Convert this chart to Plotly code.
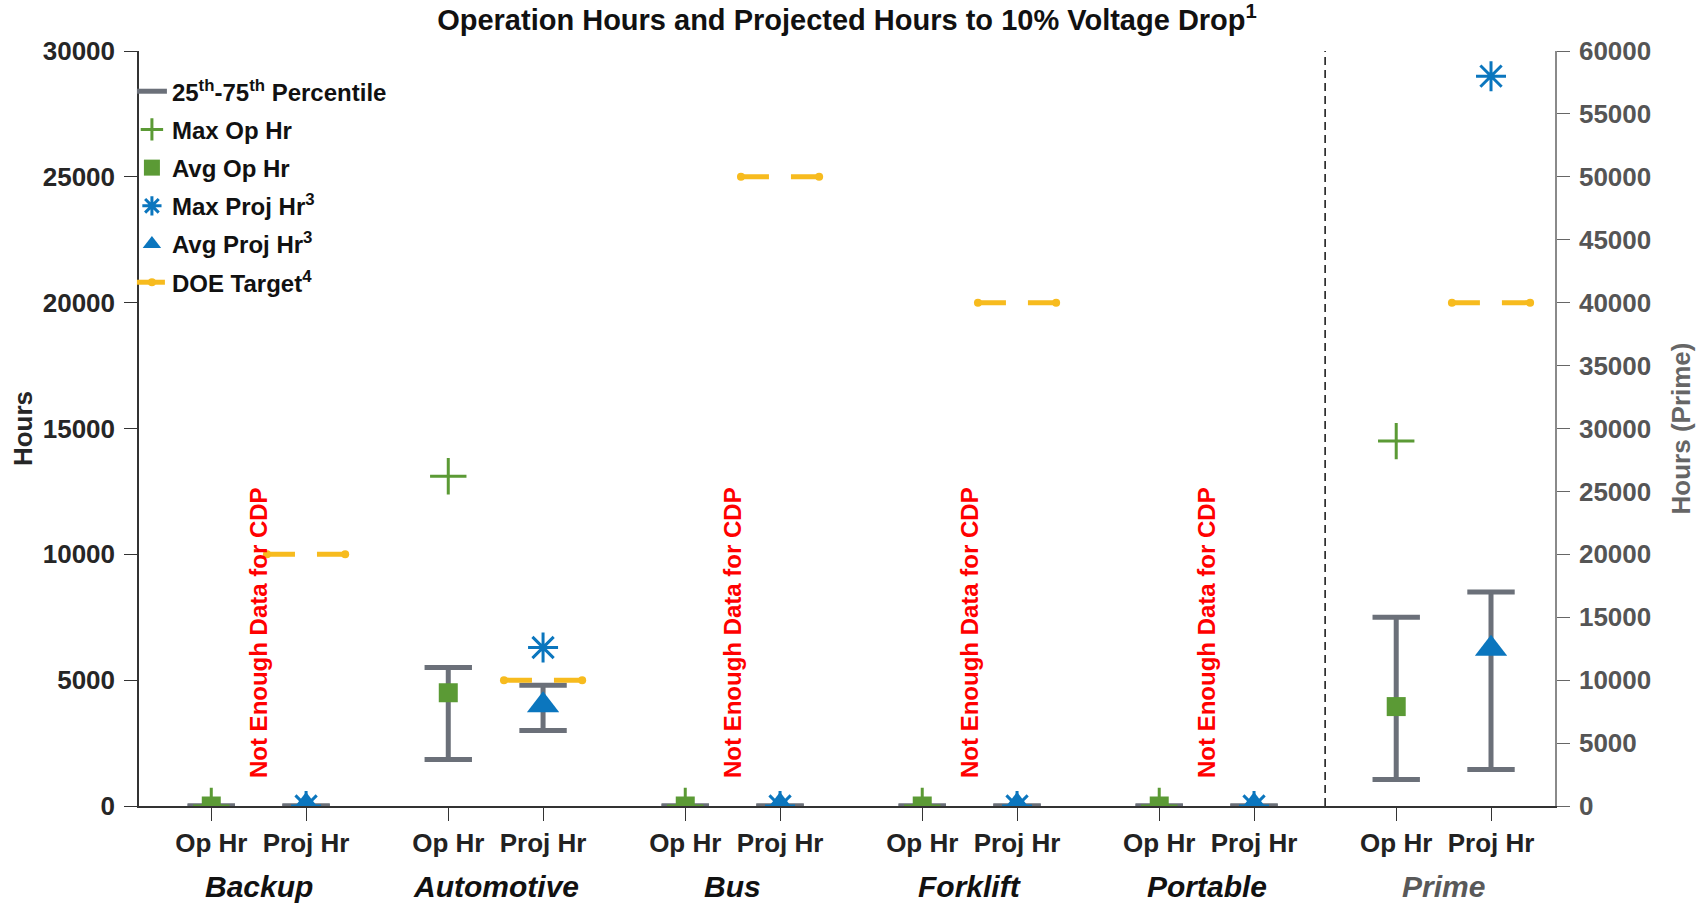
import plotly.graph_objects as go

# ---------------- data ----------------
categories = ["Backup", "Automotive", "Bus", "Forklift", "Portable", "Prime"]
sub_labels = ["Op Hr", "Proj Hr"]

op_q25 = [0, 1850, 0, 0, 0, 2100]
op_q75 = [0, 5500, 0, 0, 0, 15000]
op_avg = [0, 4500, 0, 0, 0, 7900]
op_max = [0, 13100, 0, 0, 0, 29000]

proj_q25 = [0, 3000, 0, 0, 0, 2900]
proj_q75 = [0, 4800, 0, 0, 0, 17000]
proj_avg = [0, 4000, 0, 0, 0, 12500]
proj_max = [0, 6300, 0, 0, 0, 58000]

doe_target = [10000, 5000, 25000, 20000, None, 40000]
not_enough_data = [True, False, True, True, True, False]
note_text = "Not Enough Data for CDP"
note_y = 6900
prime_index = 5  # plotted against the right-hand axis

# ---------------- style ----------------
FONT = "Arial, Liberation Sans, sans-serif"
GREEN = "#5b9a35"
BLUE = "#0b76be"
GRAY = "#6b7079"
YELLOW = "#f7bb1e"
OFFSET = 0.2
CAP = 0.1
DOE_HALF = 0.165

group_x = [i + 1 for i in range(len(categories))]
op_x = [g - OFFSET for g in group_x]
proj_x = [g + OFFSET for g in group_x]


def whisker_path(xs, lo, hi, idx):
    px, py = [], []
    for i in idx:
        x, a, b = xs[i], lo[i], hi[i]
        px += [x, x, None, x - CAP, x + CAP, None, x - CAP, x + CAP, None]
        py += [a, b, None, a, a, None, b, b, None]
    return px, py


left_idx = [i for i in range(len(categories)) if i != prime_index]
right_idx = [prime_index]

fig = go.Figure()


def add_group(idx, yaxis, show):
    wx1, wy1 = whisker_path(op_x, op_q25, op_q75, idx)
    wx2, wy2 = whisker_path(proj_x, proj_q25, proj_q75, idx)
    fig.add_trace(go.Scatter(x=wx1 + wx2, y=wy1 + wy2, mode="lines", yaxis=yaxis,
                             line=dict(color=GRAY, width=5),
                             name="25<sup>th</sup>-75<sup>th</sup> Percentile",
                             legendgroup="pct", showlegend=show, hoverinfo="skip"))
    fig.add_trace(go.Scatter(x=[op_x[i] for i in idx], y=[op_max[i] for i in idx],
                             mode="markers", yaxis=yaxis, name="Max Op Hr",
                             legendgroup="maxop", showlegend=show,
                             marker=dict(symbol="cross-thin-open", size=26,
                                         line=dict(color=GREEN, width=3), color=GREEN)))
    fig.add_trace(go.Scatter(x=[op_x[i] for i in idx], y=[op_avg[i] for i in idx],
                             mode="markers", yaxis=yaxis, name="Avg Op Hr",
                             legendgroup="avgop", showlegend=show,
                             marker=dict(symbol="square", size=19, color=GREEN,
                                         line=dict(width=0))))
    fig.add_trace(go.Scatter(x=[proj_x[i] for i in idx], y=[proj_max[i] for i in idx],
                             mode="markers", yaxis=yaxis, name="Max Proj Hr<sup>3</sup>",
                             legendgroup="maxproj", showlegend=show,
                             marker=dict(symbol="asterisk-open", size=25,
                                         line=dict(color=BLUE, width=3), color=BLUE)))
    fig.add_trace(go.Scatter(x=[proj_x[i] for i in idx], y=[proj_avg[i] for i in idx],
                             mode="markers", yaxis=yaxis, name="Avg Proj Hr<sup>3</sup>",
                             legendgroup="avgproj", showlegend=show,
                             marker=dict(symbol="triangle-up", size=28, color=BLUE,
                                         line=dict(width=0))))


add_group(left_idx, "y", True)
add_group(right_idx, "y2", False)

# DOE targets
first = True
for i, t in enumerate(doe_target):
    if t is None:
        continue
    fig.add_trace(go.Scatter(
        x=[proj_x[i] - DOE_HALF, proj_x[i] + DOE_HALF], y=[t, t],
        mode="lines+markers", yaxis="y2" if i == prime_index else "y",
        line=dict(color=YELLOW, width=5, dash="28px,22px"),
        marker=dict(symbol="circle", size=8, color=YELLOW),
        name="DOE Target<sup>4</sup>", legendgroup="doe", showlegend=first,
        hoverinfo="skip"))
    first = False

# annotations
annotations = []
for i, flag in enumerate(not_enough_data):
    if flag:
        annotations.append(dict(x=group_x[i], y=note_y, xref="x", yref="y",
                                text=note_text, textangle=-90, showarrow=False,
                                font=dict(family=FONT, size=24, color="#ff0000", weight="bold")))
for i, c in enumerate(categories):
    annotations.append(dict(x=group_x[i], y=0, xref="x", yref="paper", text="<i>%s</i>" % c,
                            showarrow=False, yanchor="middle", yshift=-80,
                            font=dict(family=FONT, size=30, weight="bold",
                                      color="#595959" if i == prime_index else "#111111")))

tickvals, ticktext = [], []
for i in range(len(categories)):
    tickvals += [op_x[i], proj_x[i]]
    ticktext += sub_labels

fig.update_layout(
    width=1698, height=904,
    margin=dict(l=139, r=143, t=51, b=98, autoexpand=False),
    paper_bgcolor="white", plot_bgcolor="white",
    font=dict(family=FONT, color="#222222"),
    title=dict(text="Operation Hours and Projected Hours to 10% Voltage Drop<sup>1</sup>",
               x=0.5, xref="paper", xanchor="center", y=0.978, yref="container",
               yanchor="middle", font=dict(family=FONT, size=29, weight="bold", color="#111111")),
    xaxis=dict(range=[0.495, 6.47], tickvals=tickvals, ticktext=ticktext,
               showline=True, linecolor="#333333", linewidth=1.5, ticks="outside",
               ticklen=13, tickwidth=1.3, tickcolor="#333333", showgrid=False,
               zeroline=False, ticklabelstandoff=0,
               tickfont=dict(family=FONT, size=26, weight="bold", color="#222222")),
    yaxis=dict(range=[0, 30000], dtick=5000, tick0=0, tickformat="d", showline=True,
               linecolor="#333333", linewidth=1.5, ticks="outside", ticklen=13, tickwidth=1.3,
               tickcolor="#333333", showgrid=False, zeroline=False, ticklabelstandoff=4,
               tickfont=dict(family=FONT, size=26, weight="bold", color="#262626"),
               title=dict(text="Hours", standoff=3,
                          font=dict(family=FONT, size=26, weight="bold", color="#262626"))),
    yaxis2=dict(range=[0, 60000], dtick=5000, tick0=0, tickformat="d", overlaying="y",
                side="right", showline=True, linecolor="#8a8a8a", linewidth=1.5,
                ticks="outside", ticklen=13, tickwidth=1.3, tickcolor="#666666",
                showgrid=False, zeroline=False, ticklabelstandoff=4,
                tickfont=dict(family=FONT, size=26, weight="bold", color="#555555"),
                title=dict(text="Hours (Prime)", standoff=22,
                           font=dict(family=FONT, size=26, weight="bold", color="#666666"))),
    legend=dict(x=-0.005, y=0.976, xanchor="left", yanchor="top", bgcolor="rgba(0,0,0,0)",
                font=dict(family=FONT, size=24, weight="bold", color="#111111"),
                itemwidth=30, tracegroupgap=4),
    annotations=annotations,
    shapes=[dict(type="line", xref="x", yref="y", x0=5.5, x1=5.5, y0=0, y1=30000,
                 line=dict(color="#111111", width=1.5, dash="8px,5px"))],
    showlegend=True,
)

fig.write_html("out.html", config={"displayModeBar": False},
               post_script="document.body.style.margin='0';")
